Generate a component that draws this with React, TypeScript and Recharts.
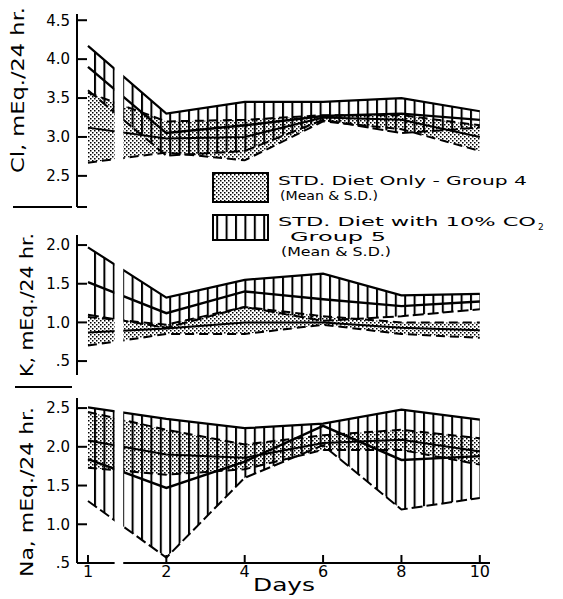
import React from 'react';
import { ComposedChart, Area, Line, XAxis, YAxis, ReferenceArea } from 'recharts';

const FONT = '"DejaVu Sans", sans-serif';

// days are drawn at evenly spaced slots (the original axis is broken after day 1)
const days = [1, 2, 4, 6, 8, 10];
const slots = [0, 1, 2, 3, 4, 5];

// Cl, mEq./24 hr.
const clG4Lo = [2.67, 2.8, 2.7, 3.2, 3.1, 2.82];
const clG4Mean = [3.12, 2.98, 3.0, 3.25, 3.22, 3.0];
const clG4Hi = [3.57, 3.2, 3.22, 3.28, 3.28, 3.15];
const clG5Lo = [3.6, 2.76, 2.82, 3.22, 3.05, 3.12];
const clG5Mean = [3.9, 3.05, 3.15, 3.27, 3.3, 3.22];
const clG5Hi = [4.17, 3.3, 3.45, 3.45, 3.5, 3.33];

// K, mEq./24 hr.
const kG4Lo = [0.7, 0.85, 0.85, 0.97, 0.85, 0.8];
const kG4Mean = [0.87, 0.92, 1.0, 1.0, 0.93, 0.9];
const kG4Hi = [1.07, 0.97, 1.2, 1.08, 1.0, 1.0];
const kG5Lo = [1.1, 0.93, 1.2, 1.02, 1.08, 1.17];
const kG5Mean = [1.52, 1.12, 1.4, 1.3, 1.21, 1.27];
const kG5Hi = [1.97, 1.32, 1.55, 1.63, 1.35, 1.37];

// Na, mEq./24 hr.
const naG4Lo = [1.73, 1.64, 1.71, 1.96, 1.96, 1.77];
const naG4Mean = [2.08, 1.9, 1.86, 2.05, 2.09, 1.94];
const naG4Hi = [2.45, 2.22, 2.03, 2.15, 2.22, 2.11];
const naG5Lo = [1.3, 0.57, 1.6, 2.02, 1.19, 1.34];
const naG5Mean = [1.84, 1.47, 1.81, 2.27, 1.83, 1.88];
const naG5Hi = [2.51, 2.36, 2.24, 2.3, 2.48, 2.35];

const clTicks = [2.1, 2.5, 3.0, 3.5, 4.0, 4.5];
const kTicks = [0.5, 1.0, 1.5, 2.0];
const naTicks = [0.5, 1.0, 1.5, 2.0, 2.5];

const makeRows = (g4lo: number[], g4m: number[], g4hi: number[], g5lo: number[], g5m: number[], g5hi: number[]) =>
  slots.map((x, i) => ({
    x,
    g4: [g4lo[i], g4hi[i]],
    g4lo: g4lo[i],
    g4m: g4m[i],
    g4hi: g4hi[i],
    g5: [g5lo[i], g5hi[i]],
    g5lo: g5lo[i],
    g5m: g5m[i],
    g5hi: g5hi[i],
  }));

const clRows = makeRows(clG4Lo, clG4Mean, clG4Hi, clG5Lo, clG5Mean, clG5Hi);
const kRows = makeRows(kG4Lo, kG4Mean, kG4Hi, kG5Lo, kG5Mean, kG5Hi);
const naRows = makeRows(naG4Lo, naG4Mean, naG4Hi, naG5Lo, naG5Mean, naG5Hi);

const fmtDecimal = (v: number) => (v < 1 ? '.5' : v.toFixed(1));
const fmtCl = (v: number) => (v === 2.1 ? '' : v.toFixed(1));

const tickStyle = { fill: '#000', fontSize: 15, fontFamily: FONT };
const axisStroke = { stroke: '#000', strokeWidth: 2 };

interface PanelProps {
  rows: any[];
  top: number;
  height: number;
  margin: { top: number; right: number; bottom: number; left: number };
  yDomain: [number, number];
  yTicks: number[];
  yFmt: (v: number) => string;
  showX?: boolean;
}

const Panel: React.FC<PanelProps> = ({ rows, top, height, margin, yDomain, yTicks, yFmt, showX }) => (
  <div style={{ position: 'absolute', left: 0, top }}>
    <ComposedChart width={563} height={height} data={rows} margin={margin}>
      <XAxis
        dataKey="x"
        type="number"
        domain={[-0.14, 5.13]}
        ticks={slots}
        interval={0}
        hide={!showX}
        allowDataOverflow
        height={36}
        tickFormatter={(v: number) => String(days[v])}
        tickSize={-8}
        tickMargin={11}
        axisLine={axisStroke}
        tickLine={axisStroke}
        tick={{ ...tickStyle, fontSize: 16 }}
      />
      <YAxis
        type="number"
        domain={yDomain}
        ticks={yTicks}
        interval={0}
        allowDataOverflow
        width={77}
        tickFormatter={yFmt}
        tickSize={-10}
        tickMargin={17}
        axisLine={axisStroke}
        tickLine={axisStroke}
        tick={tickStyle}
      />
      {/* Group 4: dotted band */}
      <Area dataKey="g4" type="linear" fill="url(#dots)" fillOpacity={1} stroke="none" isAnimationActive={false} />
      {/* Group 5: vertical hatch band */}
      <Area dataKey="g5" type="linear" fill="url(#hatch)" fillOpacity={1} stroke="none" isAnimationActive={false} />
      <Line dataKey="g4hi" type="linear" stroke="#000" strokeWidth={2} strokeDasharray="9 5" dot={false} activeDot={false} isAnimationActive={false} />
      <Line dataKey="g4lo" type="linear" stroke="#000" strokeWidth={2} strokeDasharray="9 5" dot={false} activeDot={false} isAnimationActive={false} />
      <Line dataKey="g4m" type="linear" stroke="#000" strokeWidth={2} dot={false} activeDot={false} isAnimationActive={false} />
      <Line dataKey="g5hi" type="linear" stroke="#000" strokeWidth={2.2} dot={false} activeDot={false} isAnimationActive={false} />
      <Line dataKey="g5m" type="linear" stroke="#000" strokeWidth={2.4} dot={false} activeDot={false} isAnimationActive={false} />
      <Line dataKey="g5lo" type="linear" stroke="#000" strokeWidth={2} strokeDasharray="11 4" dot={false} activeDot={false} isAnimationActive={false} />
      {/* axis break between day 1 and day 2 */}
      <ReferenceArea
        x1={0.34}
        x2={0.45}
        y1={yDomain[0] - 0.06}
        y2={yDomain[1]}
        fill="#fff"
        fillOpacity={1}
        stroke="none"
        ifOverflow="visible"
        zIndex={2000}
      />
    </ComposedChart>
  </div>
);

export default function App() {
  return (
    <div style={{ position: 'absolute', left: 0, top: 0, width: 563, height: 599, background: '#fff', fontFamily: FONT }}>
      <svg width={0} height={0} style={{ position: 'absolute' }}>
        <defs>
          <pattern id="dots" patternUnits="userSpaceOnUse" width={4} height={4}>
            <rect x={0} y={0} width={1.5} height={1.5} fill="#000" />
            <rect x={2} y={2} width={1.5} height={1.5} fill="#000" />
          </pattern>
          <pattern id="hatch" patternUnits="userSpaceOnUse" width={9.4} height={10}>
            <line x1={1} y1={0} x2={1} y2={10} stroke="#000" strokeWidth={2} />
          </pattern>
        </defs>
      </svg>

      <Panel
        rows={clRows}
        top={0}
        height={220}
        margin={{ top: 14, right: 73, bottom: 13, left: 0 }}
        yDomain={[2.1, 4.58]}
        yTicks={clTicks}
        yFmt={fmtCl}
      />
      <Panel
        rows={kRows}
        top={220}
        height={160}
        margin={{ top: 15, right: 73, bottom: 5, left: 0 }}
        yDomain={[0.32, 2.13]}
        yTicks={kTicks}
        yFmt={fmtDecimal}
      />
      <Panel
        rows={naRows}
        top={380}
        height={219}
        margin={{ top: 18, right: 73, bottom: 0, left: 0 }}
        yDomain={[0.5, 2.63]}
        yTicks={naTicks}
        yFmt={fmtDecimal}
        showX
      />

      <svg width={563} height={599} style={{ position: 'absolute', left: 0, top: 0, pointerEvents: 'none' }}>
        <g fontFamily={FONT} fill="#000">
          <text transform="translate(17,90) rotate(-90)" textAnchor="middle" dominantBaseline="central" fontSize={18} textLength={166} lengthAdjust="spacingAndGlyphs">
            Cl, mEq./24 hr.
          </text>
          <text transform="translate(26,305) rotate(-90)" textAnchor="middle" dominantBaseline="central" fontSize={18} textLength={144} lengthAdjust="spacingAndGlyphs">
            K, mEq./24 hr.
          </text>
          <text transform="translate(26,492) rotate(-90)" textAnchor="middle" dominantBaseline="central" fontSize={18} textLength={170} lengthAdjust="spacingAndGlyphs">
            Na, mEq./24 hr.
          </text>
          <text x={284} y={591} textAnchor="middle" fontSize={18} textLength={62} lengthAdjust="spacingAndGlyphs">
            Days
          </text>

          <line x1={13} y1={207} x2={72} y2={207} stroke="#000" strokeWidth={2} />
          <line x1={15} y1={387} x2={72} y2={387} stroke="#000" strokeWidth={2} />

          <rect x={213} y={173} width={55} height={29} fill="url(#dots)" stroke="#000" strokeWidth={2} />
          <text x={278} y={185} fontSize={12.5} textLength={249} lengthAdjust="spacingAndGlyphs">STD. Diet Only - Group 4</text>
          <text x={280} y={200} fontSize={12.5} textLength={98} lengthAdjust="spacingAndGlyphs">(Mean &amp; S.D.)</text>

          <rect x={213} y={215} width={55} height={25} fill="url(#hatch)" stroke="#000" strokeWidth={2} />
          <text x={278} y={226} fontSize={12.5} textLength={258} lengthAdjust="spacingAndGlyphs">STD. Diet with 10% CO</text>
          <text x={538} y={230} fontSize={9}>2</text>
          <text x={290} y={241} fontSize={12.5} textLength={96} lengthAdjust="spacingAndGlyphs">Group 5</text>
          <text x={281} y={256} fontSize={12.5} textLength={110} lengthAdjust="spacingAndGlyphs">(Mean &amp; S.D.)</text>
        </g>
      </svg>
    </div>
  );
}
